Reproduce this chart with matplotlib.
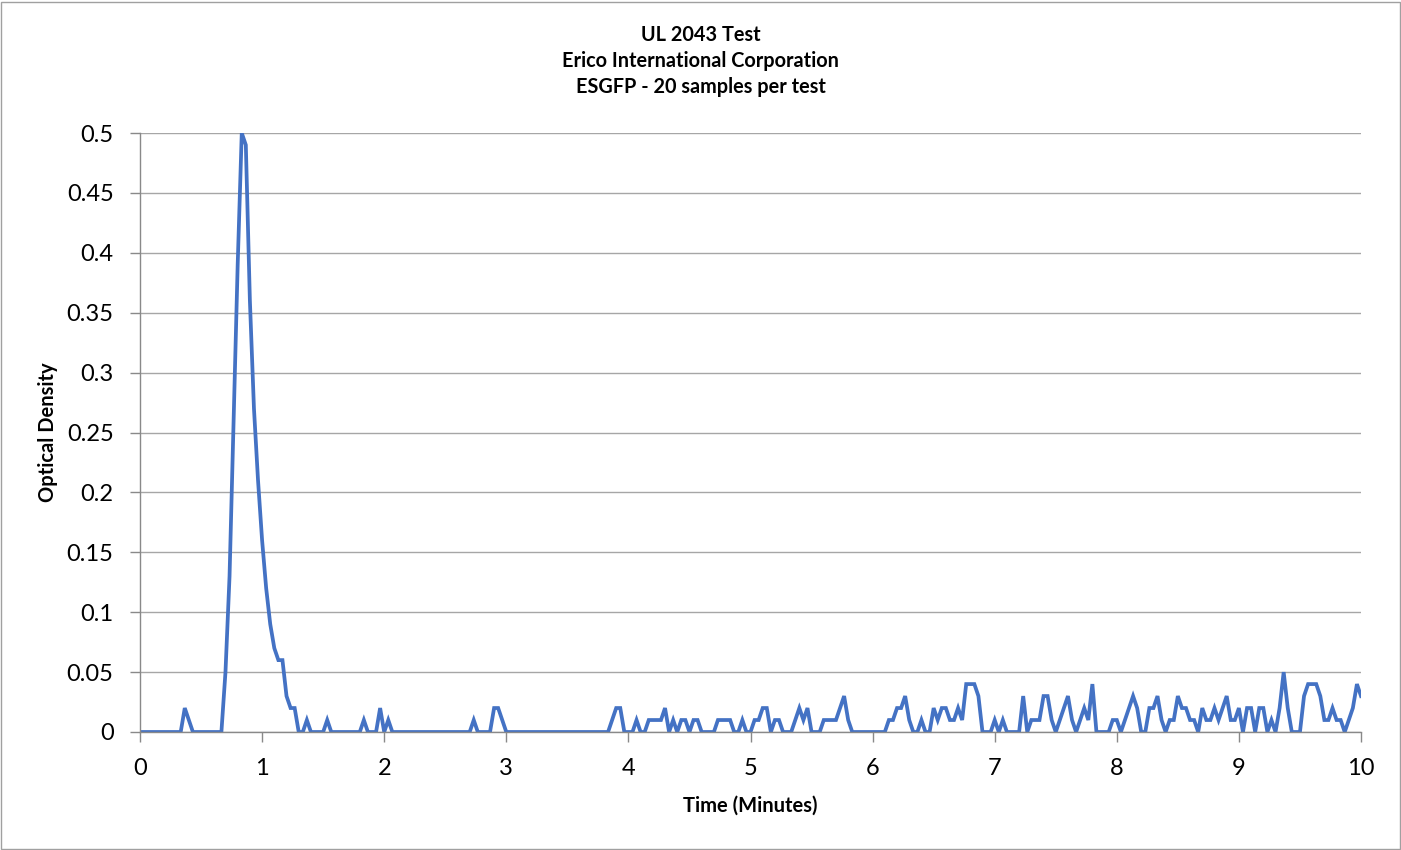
import numpy as np
import matplotlib
matplotlib.use('Agg')
import matplotlib.pyplot as plt
from matplotlib.patches import Rectangle

# optical density, one reading every 2 seconds (30 per minute)
density = [
    # minute 0
    0, 0, 0, 0, 0, 0, 0, 0, 0, 0,
    0, .02, .01, 0, 0, 0, 0, 0, 0, 0,
    0, .05, .13, .26, .39, .50, .49, .36, .27, .21,
    # minute 1
    .16, .12, .09, .07, .06, .06, .03, .02, .02, 0,
    0, .01, 0, 0, 0, 0, .01, 0, 0, 0,
    0, 0, 0, 0, 0, .01, 0, 0, 0, .02,
    # minute 2
    0, .01, 0, 0, 0, 0, 0, 0, 0, 0,
    0, 0, 0, 0, 0, 0, 0, 0, 0, 0,
    0, 0, .01, 0, 0, 0, 0, .02, .02, .01,
    # minute 3
    0, 0, 0, 0, 0, 0, 0, 0, 0, 0,
    0, 0, 0, 0, 0, 0, 0, 0, 0, 0,
    0, 0, 0, 0, 0, 0, .01, .02, .02, 0,
    # minute 4
    0, 0, .01, 0, 0, .01, .01, .01, .01, .02,
    0, .01, 0, .01, .01, 0, .01, .01, 0, 0,
    0, 0, .01, .01, .01, .01, 0, 0, .01, 0,
    # minute 5
    0, .01, .01, .02, .02, 0, .01, .01, 0, 0,
    0, .01, .02, .01, .02, 0, 0, 0, .01, .01,
    .01, .01, .02, .03, .01, 0, 0, 0, 0, 0,
    # minute 6
    0, 0, 0, 0, .01, .01, .02, .02, .03, .01,
    0, 0, .01, 0, 0, .02, .01, .02, .02, .01,
    .01, .02, .01, .04, .04, .04, .03, 0, 0, 0,
    # minute 7
    .01, 0, .01, 0, 0, 0, 0, .03, 0, .01,
    .01, .01, .03, .03, .01, 0, .01, .02, .03, .01,
    0, .01, .02, .01, .04, 0, 0, 0, 0, .01,
    # minute 8
    .01, 0, .01, .02, .03, .02, 0, 0, .02, .02,
    .03, .01, 0, .01, .01, .03, .02, .02, .01, .01,
    0, .02, .01, .01, .02, .01, .02, .03, .01, .01,
    # minute 9
    .02, 0, .02, .02, 0, .02, .02, 0, .01, 0,
    .02, .05, .02, 0, 0, 0, .03, .04, .04, .04,
    .03, .01, .01, .02, .01, .01, 0, .01, .02, .04,
    # minute 10
    .03,
]

sample_seconds = 2
minutes = np.arange(len(density)) * sample_seconds / 60

title_lines = ['UL 2043 Test', 'Erico International Corporation', 'ESGFP - 20 samples per test']
x_ticks = list(range(0, 11))
y_ticks = [0, 0.05, 0.1, 0.15, 0.2, 0.25, 0.3, 0.35, 0.4, 0.45, 0.5]
y_tick_labels = ['0', '0.05', '0.1', '0.15', '0.2', '0.25', '0.3', '0.35', '0.4', '0.45', '0.5']

plt.rcParams['font.family'] = ['Lato', 'DejaVu Sans']

fig = plt.figure(figsize=(14.01, 8.5), dpi=100)
ax = fig.add_axes([140 / 1401, 1 - 732 / 850, 1221 / 1401, 599 / 850])

ax.plot(minutes, density, color='#4472C4', linewidth=2.7, solid_joinstyle='miter')

ax.set_xlim(0, 10)
ax.set_ylim(0, 0.5)
ax.set_xticks(x_ticks)
ax.set_yticks(y_ticks)
ax.set_yticklabels(y_tick_labels)
ax.tick_params(axis='both', labelsize=17, colors='#898989', length=7, width=1,
               labelcolor='black')
ax.tick_params(axis='x', pad=12)
ax.tick_params(axis='y', pad=12)
ax.grid(axis='y', color='#A6A6A6', linewidth=1)
ax.set_axisbelow(True)
for side in ['top', 'right']:
    ax.spines[side].set_visible(False)
for side in ['left', 'bottom']:
    ax.spines[side].set_color('#898989')
    ax.spines[side].set_linewidth(1)

ax.set_xlabel('Time (Minutes)', fontsize=14.5, fontweight='bold', labelpad=12)
ax.set_ylabel('Optical Density', fontsize=14.5, fontweight='bold', labelpad=6)

for k, line in enumerate(title_lines):
    fig.text(0.5, 1 - (35 + 26 * k) / 850, line,
             ha='center', va='center', fontsize=14.3, fontweight='bold')

fig.patches.append(Rectangle((0.5 / 1401, 1.5 / 850), 1399 / 1401, 847 / 850,
                             transform=fig.transFigure, fill=False,
                             edgecolor='#A0A0A0', linewidth=1))

fig.savefig('out.png', dpi=100)
